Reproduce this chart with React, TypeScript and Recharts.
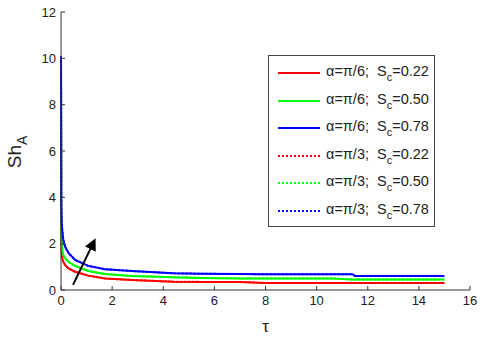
import React from 'react';
import { LineChart, Line, XAxis, YAxis, ReferenceLine } from 'recharts';

const tau = [0, 0.01, 0.03, 0.06, 0.09, 0.16, 0.29, 0.55, 1.07, 1.72, 2.77, 4.4, 5.5, 7, 8, 10.6, 11.4, 11.5, 13, 15];
const blueA = [10.1, 3.6, 2.8, 2.46, 2.16, 1.87, 1.6, 1.3, 1.04, 0.9, 0.82, 0.72, 0.7, 0.69, 0.68, 0.68, 0.68, 0.6, 0.6, 0.6];
const greenA = [10.1, 2.6, 1.9, 1.65, 1.51, 1.37, 1.22, 1.04, 0.82, 0.69, 0.6, 0.55, 0.52, 0.5, 0.5, 0.5, 0.45, 0.45, 0.45, 0.45];
const redA = [10.1, 2.0, 1.5, 1.33, 1.22, 1.08, 0.93, 0.79, 0.62, 0.5, 0.43, 0.36, 0.35, 0.35, 0.3, 0.3, 0.3, 0.3, 0.3, 0.3];
const blueB = [10.1, 3.6, 2.8, 2.46, 2.16, 1.87, 1.6, 1.3, 1.04, 0.9, 0.82, 0.72, 0.7, 0.69, 0.68, 0.68, 0.68, 0.6, 0.6, 0.6];
const greenB = [10.1, 2.6, 1.9, 1.65, 1.51, 1.37, 1.22, 1.04, 0.82, 0.69, 0.6, 0.55, 0.52, 0.5, 0.5, 0.5, 0.45, 0.45, 0.45, 0.45];
const redB = [10.1, 2.0, 1.5, 1.33, 1.22, 1.08, 0.93, 0.79, 0.62, 0.5, 0.43, 0.36, 0.35, 0.35, 0.3, 0.3, 0.3, 0.3, 0.3, 0.3];

const xTicks = [0, 2, 4, 6, 8, 10, 12, 14, 16];
const yTicks = [0, 2, 4, 6, 8, 10, 12];

const seriesLabels = [
  { alpha: 'π/6', sc: '0.22', color: '#ff0000', dotted: false },
  { alpha: 'π/6', sc: '0.50', color: '#00ff00', dotted: false },
  { alpha: 'π/6', sc: '0.78', color: '#0000ff', dotted: false },
  { alpha: 'π/3', sc: '0.22', color: '#ff0000', dotted: true },
  { alpha: 'π/3', sc: '0.50', color: '#00ff00', dotted: true },
  { alpha: 'π/3', sc: '0.78', color: '#0000ff', dotted: true },
];

const data = tau.map((t, i) => ({
  t,
  ra: redA[i], ga: greenA[i], ba: blueA[i],
  rb: redB[i], gb: greenB[i], bb: blueB[i],
}));

const FONT = '"Liberation Sans", Arial, sans-serif';

const LegendBox = () => (
  <div style={{
    position: 'absolute', left: 268, top: 55, width: 167, height: 172,
    border: '1px solid #444', background: '#fff', boxSizing: 'border-box',
    fontFamily: FONT, fontSize: 14.5, color: '#222',
  }}>
    {seriesLabels.map((s, i) => (
      <div key={i} style={{ position: 'absolute', left: 8, top: 7 + i * 27.5, height: 20, display: 'flex', alignItems: 'center', whiteSpace: 'nowrap' }}>
        <svg width={44} height={6} style={{ marginRight: 5 }}>
          <line x1={1} y1={3} x2={43} y2={3} stroke={s.color} strokeWidth={2} strokeDasharray={s.dotted ? '2 2' : undefined} />
        </svg>
        <span>α=<span>{s.alpha}</span>;&nbsp;&nbsp;S<sub style={{ fontSize: 11, verticalAlign: -5 }}>c</sub>={s.sc}</span>
      </div>
    ))}
  </div>
);

const YLabel = () => (
  <text x={0} y={0} transform="translate(21,152) rotate(-90)" textAnchor="middle" fontFamily={FONT} fontSize={19} fill="#222">
    Sh<tspan fontSize={14} dy={6}>A</tspan>
  </text>
);

export default function App() {
  return (
    <div style={{ position: 'absolute', left: 0, top: 0, width: 480, height: 337, background: '#fff' }}>
      <LineChart width={480} height={337} data={data} margin={{ top: 12, right: 10, left: 0, bottom: 0 }}>
        <defs>
          <marker id="arrowHead" markerWidth="6" markerHeight="6" refX="3" refY="3" orient="auto" markerUnits="strokeWidth">
            <path d="M0,0 L6,3 L0,6 Z" fill="#000" />
          </marker>
        </defs>
        <XAxis xAxisId="b" dataKey="t" type="number" domain={[0, 16]} ticks={xTicks} height={47}
          stroke="#333" tickSize={-4} tickMargin={10}
          tick={{ fontFamily: FONT, fontSize: 13, fill: '#222' }}
          label={{ value: 'τ', position: 'insideBottom', offset: 5, fontFamily: FONT, fontSize: 17, fill: '#222' }} />
        <XAxis xAxisId="t" orientation="top" dataKey="t" type="number" domain={[0, 16]} ticks={xTicks} height={0}
          stroke="#333" tickSize={-4} tickFormatter={() => ''} />
        <YAxis yAxisId="l" type="number" domain={[0, 12]} ticks={yTicks} width={61}
          stroke="#333" tickSize={-4} tickMargin={9}
          tick={{ fontFamily: FONT, fontSize: 13, fill: '#222' }}
          label={<YLabel />} />
        <YAxis yAxisId="r" orientation="right" type="number" domain={[0, 12]} ticks={yTicks} width={0}
          stroke="#333" tickSize={-4} tickFormatter={() => ''} />
        <Line xAxisId="b" yAxisId="l" dataKey="rb" stroke="#ff0000" strokeWidth={2} strokeDasharray="2 2" dot={false} isAnimationActive={false} />
        <Line xAxisId="b" yAxisId="l" dataKey="gb" stroke="#00ff00" strokeWidth={2} strokeDasharray="2 2" dot={false} isAnimationActive={false} />
        <Line xAxisId="b" yAxisId="l" dataKey="bb" stroke="#0000ff" strokeWidth={2} strokeDasharray="2 2" dot={false} isAnimationActive={false} />
        <Line xAxisId="b" yAxisId="l" dataKey="ra" stroke="#ff0000" strokeWidth={2} dot={false} isAnimationActive={false} />
        <Line xAxisId="b" yAxisId="l" dataKey="ga" stroke="#00ff00" strokeWidth={2} dot={false} isAnimationActive={false} />
        <Line xAxisId="b" yAxisId="l" dataKey="ba" stroke="#0000ff" strokeWidth={2} dot={false} isAnimationActive={false} />
        <ReferenceLine xAxisId="b" yAxisId="l" segment={[{ x: 0.47, y: 0.22 }, { x: 1.25, y: 2.0 }]}
          stroke="#000" strokeWidth={2} markerEnd="url(#arrowHead)" ifOverflow="visible" />
      </LineChart>
      <LegendBox />
    </div>
  );
}
